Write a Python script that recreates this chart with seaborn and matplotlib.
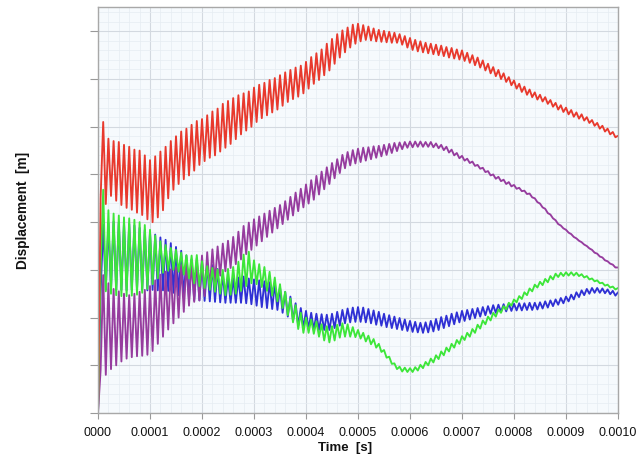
import matplotlib
matplotlib.use("Agg")
import matplotlib.pyplot as plt
from matplotlib.ticker import MultipleLocator
import pandas as pd
import seaborn as sns

# Sampling: one peak every 1e-5 s, troughs half a period later
period = 1e-5

red_peaks = [0.00, 6.10, 5.75, 5.70, 5.68, 5.62, 5.58, 5.52, 5.50, 5.40,
             5.30, 5.38, 5.48, 5.58, 5.70, 5.80, 5.90, 5.96, 6.04, 6.12,
             6.16, 6.24, 6.32, 6.38, 6.48, 6.54, 6.60, 6.66, 6.70, 6.74,
             6.82, 6.88, 6.92, 6.98, 7.02, 7.08, 7.14, 7.19, 7.24, 7.28,
             7.36, 7.46, 7.54, 7.62, 7.74, 7.84, 7.94, 8.02, 8.08, 8.14,
             8.16, 8.13, 8.10, 8.06, 8.03, 8.01, 7.99, 7.97, 7.94, 7.90,
             7.86, 7.82, 7.79, 7.76, 7.74, 7.72, 7.70, 7.67, 7.65, 7.62,
             7.60, 7.55, 7.50, 7.45, 7.39, 7.32, 7.25, 7.19, 7.12, 7.04,
             6.97, 6.90, 6.84, 6.78, 6.72, 6.67, 6.62, 6.56, 6.50, 6.45,
             6.40, 6.35, 6.30, 6.26, 6.20, 6.14, 6.08, 6.02, 5.96, 5.89,
             5.81]
red_troughs = [4.50, 4.38, 4.55, 4.45, 4.36, 4.30, 4.26, 4.20, 4.15, 4.06,
               4.00, 4.10, 4.25, 4.50, 4.68, 4.80, 4.90, 4.98, 5.08, 5.20,
               5.28, 5.35, 5.40, 5.48, 5.56, 5.64, 5.74, 5.84, 5.92, 6.00,
               6.10, 6.18, 6.24, 6.30, 6.36, 6.44, 6.52, 6.58, 6.63, 6.70,
               6.80, 6.90, 6.98, 7.08, 7.18, 7.32, 7.45, 7.56, 7.66, 7.74,
               7.79, 7.82, 7.81, 7.79, 7.78, 7.77, 7.76, 7.76, 7.72, 7.66,
               7.61, 7.58, 7.56, 7.54, 7.52, 7.50, 7.48, 7.45, 7.43, 7.41,
               7.38, 7.34, 7.29, 7.24, 7.18, 7.12, 7.06, 7.00, 6.94, 6.87,
               6.80, 6.73, 6.67, 6.62, 6.57, 6.53, 6.48, 6.42, 6.36, 6.31,
               6.26, 6.21, 6.17, 6.13, 6.08, 6.02, 5.96, 5.90, 5.84, 5.78]

purple_peaks = [0.00, 2.89, 2.72, 2.60, 2.55, 2.50, 2.47, 2.50, 2.54, 2.58,
                2.66, 2.78, 2.90, 2.96, 3.01, 3.05, 3.10, 3.15, 3.19, 3.24,
                3.30, 3.37, 3.43, 3.49, 3.55, 3.61, 3.69, 3.80, 3.92, 3.99,
                4.06, 4.12, 4.18, 4.24, 4.30, 4.36, 4.44, 4.53, 4.62, 4.70,
                4.79, 4.88, 4.97, 5.06, 5.15, 5.24, 5.32, 5.41, 5.47, 5.51,
                5.54, 5.56, 5.57, 5.59, 5.60, 5.62, 5.64, 5.66, 5.67, 5.68,
                5.69, 5.69, 5.69, 5.68, 5.68, 5.65, 5.62, 5.58, 5.52, 5.45,
                5.39, 5.33, 5.27, 5.20, 5.14, 5.07, 5.00, 4.95, 4.89, 4.84,
                4.78, 4.72, 4.66, 4.60, 4.50, 4.39, 4.28, 4.16, 4.04, 3.93,
                3.84, 3.75, 3.66, 3.58, 3.50, 3.42, 3.34, 3.26, 3.18, 3.11,
                3.05]
purple_troughs = [0.90, 0.80, 0.92, 1.00, 1.08, 1.14, 1.17, 1.19, 1.20, 1.22,
                  1.30, 1.45, 1.60, 1.75, 1.88, 2.00, 2.12, 2.25, 2.33, 2.36,
                  2.45, 2.60, 2.74, 2.88, 2.97, 3.04, 3.12, 3.22, 3.33, 3.42,
                  3.51, 3.60, 3.69, 3.78, 3.87, 3.96, 4.05, 4.14, 4.23, 4.31,
                  4.39, 4.47, 4.58, 4.69, 4.80, 4.92, 5.03, 5.13, 5.19, 5.23,
                  5.26, 5.29, 5.32, 5.35, 5.38, 5.41, 5.45, 5.49, 5.53, 5.56,
                  5.57, 5.58, 5.58, 5.58, 5.57, 5.55, 5.51, 5.46, 5.40, 5.34,
                  5.29, 5.24, 5.18, 5.12, 5.05, 4.98, 4.91, 4.86, 4.80, 4.75,
                  4.70, 4.65, 4.59, 4.52, 4.42, 4.31, 4.19, 4.08, 3.96, 3.87,
                  3.78, 3.69, 3.61, 3.53, 3.45, 3.36, 3.28, 3.20, 3.13, 3.05]

blue_peaks = [0.00, 3.95, 3.98, 4.01, 4.00, 3.99, 3.96, 3.93, 3.88, 3.84,
              3.80, 3.74, 3.68, 3.63, 3.56, 3.48, 3.40, 3.30, 3.22, 3.18,
              3.16, 3.13, 3.10, 3.02, 2.92, 2.85, 2.83, 2.84, 2.86, 2.82,
              2.80, 2.78, 2.76, 2.74, 2.72, 2.64, 2.54, 2.44, 2.30, 2.20,
              2.14, 2.10, 2.08, 2.07, 2.06, 2.08, 2.12, 2.16, 2.19, 2.21,
              2.22, 2.21, 2.18, 2.15, 2.12, 2.08, 2.05, 2.02, 1.99, 1.96,
              1.93, 1.91, 1.89, 1.90, 1.93, 1.97, 2.01, 2.04, 2.08, 2.11,
              2.14, 2.16, 2.18, 2.20, 2.22, 2.24, 2.26, 2.27, 2.28, 2.29,
              2.29, 2.30, 2.30, 2.31, 2.31, 2.32, 2.34, 2.36, 2.38, 2.41,
              2.44, 2.48, 2.53, 2.57, 2.60, 2.62, 2.62, 2.61, 2.59, 2.56,
              2.53]
blue_troughs = [2.50, 2.58, 2.60, 2.58, 2.58, 2.57, 2.58, 2.58, 2.58, 2.57,
                2.58, 2.57, 2.57, 2.56, 2.52, 2.47, 2.42, 2.38, 2.36, 2.36,
                2.35, 2.34, 2.33, 2.32, 2.31, 2.31, 2.31, 2.31, 2.30, 2.28,
                2.25, 2.22, 2.20, 2.18, 2.16, 2.10, 2.02, 1.93, 1.83, 1.78,
                1.76, 1.74, 1.74, 1.74, 1.74, 1.78, 1.83, 1.88, 1.90, 1.91,
                1.91, 1.90, 1.88, 1.85, 1.83, 1.80, 1.78, 1.76, 1.74, 1.72,
                1.70, 1.69, 1.68, 1.69, 1.71, 1.74, 1.78, 1.82, 1.86, 1.90,
                1.93, 1.96, 1.99, 2.02, 2.05, 2.08, 2.10, 2.12, 2.13, 2.14,
                2.15, 2.15, 2.16, 2.16, 2.17, 2.19, 2.21, 2.24, 2.27, 2.30,
                2.34, 2.38, 2.43, 2.47, 2.50, 2.52, 2.52, 2.51, 2.49, 2.46]

green_peaks = [0.00, 4.68, 4.25, 4.18, 4.14, 4.10, 4.08, 4.05, 4.00, 3.94,
               3.84, 3.72, 3.60, 3.52, 3.46, 3.42, 3.36, 3.31, 3.30, 3.31,
               3.18, 3.08, 3.04, 3.01, 3.00, 3.02, 3.06, 3.17, 3.32, 3.38,
               3.20, 3.12, 3.06, 2.96, 2.84, 2.70, 2.54, 2.40, 2.26, 2.10,
               2.00, 1.96, 1.92, 1.86, 1.82, 1.82, 1.85, 1.88, 1.86, 1.80,
               1.74, 1.68, 1.62, 1.55, 1.45, 1.32, 1.18, 1.04, 0.97, 0.95,
               0.94, 0.96, 1.01, 1.07, 1.14, 1.21, 1.29, 1.37, 1.45, 1.53,
               1.61, 1.68, 1.76, 1.85, 1.94, 2.02, 2.10, 2.17, 2.24, 2.31,
               2.38, 2.45, 2.53, 2.61, 2.69, 2.75, 2.81, 2.87, 2.92, 2.94,
               2.95, 2.95, 2.94, 2.91, 2.87, 2.82, 2.78, 2.73, 2.69, 2.65,
               2.62]
green_troughs = [3.00, 2.55, 2.50, 2.47, 2.45, 2.45, 2.46, 2.48, 2.52, 2.60,
                 2.70, 2.82, 2.94, 2.98, 3.00, 2.96, 2.90, 2.82, 2.72, 2.66,
                 2.62, 2.58, 2.54, 2.50, 2.47, 2.48, 2.50, 2.56, 2.66, 2.72,
                 2.70, 2.64, 2.56, 2.46, 2.34, 2.20, 2.05, 1.90, 1.76, 1.68,
                 1.68, 1.66, 1.60, 1.52, 1.48, 1.52, 1.58, 1.60, 1.60, 1.59,
                 1.56, 1.50, 1.44, 1.37, 1.28, 1.16, 1.03, 0.92, 0.87, 0.86,
                 0.86, 0.89, 0.94, 1.00, 1.06, 1.13, 1.21, 1.29, 1.37, 1.45,
                 1.53, 1.60, 1.68, 1.77, 1.86, 1.94, 2.02, 2.10, 2.17, 2.25,
                 2.32, 2.39, 2.47, 2.55, 2.63, 2.68, 2.74, 2.80, 2.85, 2.87,
                 2.88, 2.88, 2.87, 2.84, 2.80, 2.76, 2.72, 2.67, 2.63, 2.59]

series_names = ["Blue", "Purple", "Green", "Red"]
series_colors = ["#2f30d4", "#963c9e", "#3de639", "#e8392d"]

x_ticks = [0.0, 0.0001, 0.0002, 0.0003, 0.0004, 0.0005,
           0.0006, 0.0007, 0.0008, 0.0009, 0.0010]
x_tick_labels = ["0000", "0.0001", "0.0002", "0.0003", "0.0004", "0.0005",
                 "0.0006", "0.0007", "0.0008", "0.0009", "0.0010"]

# Build long table (interleave peaks and troughs in time order)
rows = []
for name, peaks, troughs in [("Blue", blue_peaks, blue_troughs),
                             ("Purple", purple_peaks, purple_troughs),
                             ("Green", green_peaks, green_troughs),
                             ("Red", red_peaks, red_troughs)]:
    for k, p in enumerate(peaks):
        rows.append((k * period, p, name))
        if k < len(troughs):
            rows.append(((k + 0.5) * period, troughs[k], name))
df = pd.DataFrame(rows, columns=["Time", "Displacement", "Series"])

sns.set_theme(style="white")
plt.rcParams["font.family"] = ["Liberation Sans", "DejaVu Sans"]

fig = plt.figure(figsize=(6.41, 4.54), dpi=100)
ax = fig.add_axes([98 / 641, 1 - 413 / 454, 520 / 641, 406 / 454])

sns.lineplot(data=df, x="Time", y="Displacement", hue="Series",
             hue_order=series_names, palette=series_colors,
             estimator=None, sort=False, linewidth=1.35, legend=False, ax=ax)

ax.set_xlim(0, 0.001)
ax.set_ylim(0, 8.51)
ax.set_xticks(x_ticks)
ax.set_xticklabels(x_tick_labels)
ax.set_yticks(range(9))
ax.set_yticklabels([])
ax.xaxis.set_minor_locator(MultipleLocator(0.00002))
ax.yaxis.set_minor_locator(MultipleLocator(0.2))

ax.set_facecolor("#f6fafd")
ax.grid(which="major", color="#d3d9e0", linewidth=0.8)
ax.grid(which="minor", color="#e6ecf2", linewidth=0.5)
ax.set_axisbelow(True)
for s in ax.spines.values():
    s.set_color("#a8a8a8")
    s.set_linewidth(1.0)

ax.tick_params(axis="x", which="major", length=4, width=0.8, color="#999999",
               pad=6, labelsize=9.0, labelcolor="#111111", bottom=True)
ax.tick_params(axis="y", which="major", length=6, width=0.8, color="#999999",
               left=True)
ax.tick_params(which="minor", length=0)

ax.set_xlabel("Time  [s]", fontsize=9.5, fontweight="bold", color="#111111")
ax.set_ylabel("Displacement  [m]", fontsize=9.8, fontweight="bold", color="#111111")
ax.xaxis.label.set_va("center")
ax.xaxis.set_label_coords(0.475, -(448 - 413) / 406)
ax.yaxis.label.set_va("center")
ax.yaxis.label.set_ha("center")
ax.yaxis.set_label_coords(-(98 - 23) / 520, 0.5)

fig.savefig("out.png", dpi=100)
